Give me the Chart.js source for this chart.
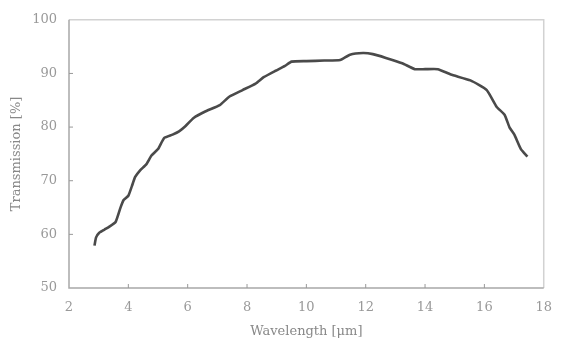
<!DOCTYPE html>
<html>
<head>
<meta charset="utf-8">
<script src="https://cdn.jsdelivr.net/npm/chart.js@4/dist/chart.umd.min.js"></script>
<style>
  html, body { margin: 0; padding: 0; background: #fff; }
  #wrap { width: 564px; height: 347px; }
</style>
</head>
<body>
<div id="wrap"><canvas id="chart"></canvas></div>
<script>
// valores
const wavelength = [2.86, 2.91, 3.02, 3.2, 3.35, 3.57, 3.73, 3.84, 4.0, 4.12, 4.23, 4.39, 4.61, 4.78, 5.0, 5.21, 5.49, 5.71, 5.93, 6.2, 6.59, 7.08, 7.41, 7.85, 8.29, 8.56, 8.96, 9.28, 9.5, 10.0, 10.6, 11.14, 11.47, 11.91, 12.24, 12.68, 13.23, 13.66, 14.0, 14.43, 14.87, 15.53, 16.08, 16.41, 16.68, 16.85, 17.01, 17.23, 17.45];
const transmission = [57.9, 59.4, 60.3, 60.9, 61.4, 62.3, 64.9, 66.4, 67.2, 69.0, 70.7, 71.9, 73.1, 74.7, 75.9, 78.0, 78.6, 79.2, 80.2, 81.7, 82.9, 84.1, 85.7, 86.9, 88.1, 89.3, 90.5, 91.4, 92.2, 92.3, 92.4, 92.5, 93.5, 93.8, 93.6, 92.9, 91.9, 90.8, 90.8, 90.8, 89.8, 88.7, 86.9, 83.8, 82.3, 79.9, 78.6, 75.9, 74.5];
const xTicks = [2, 4, 6, 8, 10, 12, 14, 16, 18];
const yTicks = [50, 60, 70, 80, 90, 100];

const points = wavelength.map((w, i) => ({ x: w, y: transmission[i] }));

// marco y marcas hacia adentro
const frame = {
  id: 'frame',
  afterDraw(chart) {
    const { ctx, chartArea: a, scales } = chart;
    ctx.save();
    ctx.lineWidth = 1.5;
    ctx.strokeStyle = '#d2d2d2';
    ctx.beginPath();
    ctx.moveTo(a.left, a.top); ctx.lineTo(a.right, a.top); ctx.lineTo(a.right, a.bottom);
    ctx.stroke();
    ctx.strokeStyle = '#a8a8a8';
    ctx.beginPath();
    ctx.moveTo(a.left, a.top); ctx.lineTo(a.left, a.bottom); ctx.lineTo(a.right, a.bottom);
    ctx.stroke();
    ctx.lineWidth = 1;
    ctx.strokeStyle = '#999';
    ctx.beginPath();
    xTicks.slice(1, -1).forEach(v => {
      const px = scales.x.getPixelForValue(v);
      ctx.moveTo(px, a.bottom); ctx.lineTo(px, a.bottom - 4);
    });
    yTicks.slice(1, -1).forEach(v => {
      const py = scales.y.getPixelForValue(v);
      ctx.moveTo(a.left, py); ctx.lineTo(a.left + 4, py);
    });
    ctx.stroke();
    ctx.restore();
  }
};

const serif = { family: 'DejaVu Serif', size: 13 };

new Chart(document.getElementById('chart'), {
  type: 'scatter',
  data: {
    datasets: [{
      data: points,
      showLine: true,
      borderColor: '#4a4a4a',
      borderWidth: 2.6,
      pointRadius: 0,
      tension: 0.15
    }]
  },
  options: {
    responsive: true,
    maintainAspectRatio: false,
    animation: false,
    layout: { padding: { top: 15, right: 9, left: 0, bottom: 0 } },
    plugins: { legend: { display: false }, tooltip: { enabled: false } },
    scales: {
      x: {
        type: 'linear',
        min: 2, max: 18,
        afterBuildTicks: s => { s.ticks = xTicks.map(v => ({ value: v })); },
        afterFit: s => { s.height = 59; },
        grid: { display: false, drawTicks: false },
        border: { display: false },
        ticks: { padding: 12, color: '#999', font: serif },
        title: { display: true, text: 'Wavelength [μm]', color: '#888', padding: { top: 4, bottom: 8 }, font: serif }
      },
      y: {
        min: 50, max: 100,
        afterBuildTicks: s => { s.ticks = yTicks.map(v => ({ value: v })); },
        afterFit: s => { s.width = 69; },
        grid: { display: false, drawTicks: false },
        border: { display: false },
        ticks: { padding: 12, color: '#999', font: serif },
        title: { display: true, text: 'Transmission [%]', color: '#888', padding: { top: 9, bottom: 0 }, font: serif }
      }
    }
  },
  plugins: [frame]
});
</script>
</body>
</html>
